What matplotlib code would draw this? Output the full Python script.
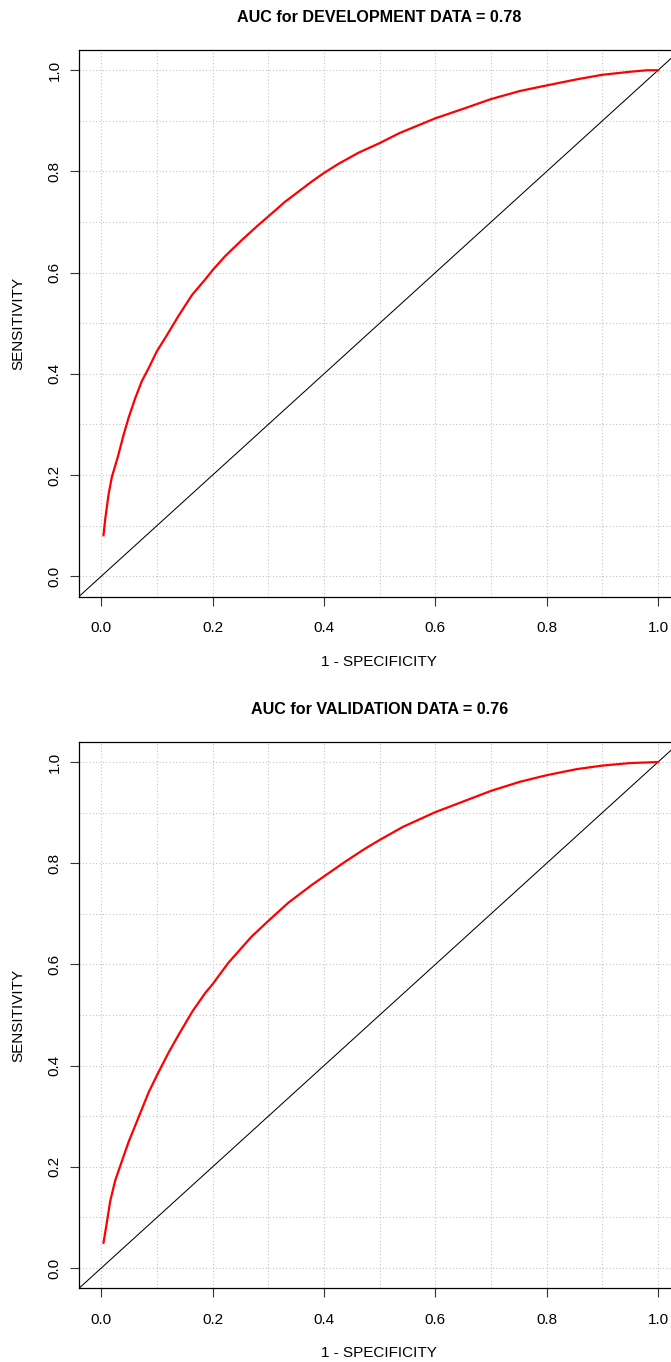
import numpy as np
import matplotlib
matplotlib.use("Agg")
import matplotlib.pyplot as plt
from matplotlib.ticker import MultipleLocator

plt.rcParams['font.family'] = ['Liberation Sans', 'DejaVu Sans']

# ROC points (1 - specificity, sensitivity)
dev_fpr = [0.004, 0.007, 0.013, 0.019, 0.030, 0.040, 0.049, 0.061, 0.073, 0.085,
           0.100, 0.116, 0.139, 0.163, 0.187, 0.200, 0.222, 0.252, 0.282, 0.300,
           0.330, 0.378, 0.400, 0.426, 0.462, 0.500, 0.536, 0.600, 0.656, 0.700,
           0.752, 0.800, 0.854, 0.900, 0.950, 0.980, 1.000]
dev_tpr = [0.081, 0.112, 0.161, 0.196, 0.237, 0.279, 0.313, 0.352, 0.386, 0.411,
           0.445, 0.473, 0.515, 0.556, 0.587, 0.605, 0.632, 0.664, 0.694, 0.711,
           0.740, 0.780, 0.797, 0.815, 0.837, 0.856, 0.876, 0.905, 0.926, 0.943,
           0.959, 0.970, 0.982, 0.991, 0.997, 1.000, 1.000]

val_fpr = [0.004, 0.010, 0.016, 0.025, 0.036, 0.049, 0.067, 0.085, 0.100, 0.121,
           0.139, 0.163, 0.187, 0.200, 0.228, 0.270, 0.300, 0.336, 0.378, 0.400,
           0.438, 0.474, 0.500, 0.542, 0.600, 0.650, 0.700, 0.752, 0.800, 0.854,
           0.900, 0.950, 1.000]
val_tpr = [0.050, 0.090, 0.132, 0.173, 0.208, 0.249, 0.298, 0.347, 0.381, 0.426,
           0.461, 0.506, 0.544, 0.561, 0.603, 0.655, 0.686, 0.722, 0.757, 0.774,
           0.803, 0.829, 0.846, 0.872, 0.901, 0.922, 0.943, 0.961, 0.974, 0.986,
           0.993, 0.998, 1.000]

titles = ["AUC for DEVELOPMENT DATA = 0.78", "AUC for VALIDATION DATA = 0.76"]
ticks = [0.0, 0.2, 0.4, 0.6, 0.8, 1.0]

W, H = 671, 1362
fig = plt.figure(figsize=(W / 100, H / 100), dpi=100)


def roc_panel(top_px, fpr, tpr, title):
    left_px, right_px = 79, 680.3
    h_px = 546.5
    ax = fig.add_axes([left_px / W, 1 - (top_px + h_px) / H,
                       (right_px - left_px) / W, h_px / H])
    ax.set_xlim(-0.04, 1.04)
    ax.set_ylim(-0.04, 1.04)
    ax.xaxis.set_minor_locator(MultipleLocator(0.1))
    ax.yaxis.set_minor_locator(MultipleLocator(0.1))
    ax.set_xticks(ticks)
    ax.set_yticks(ticks)
    ax.set_xticklabels([f"{t:.1f}" for t in ticks])
    ax.set_yticklabels([f"{t:.1f}" for t in ticks], rotation=90, va='center')
    ax.tick_params(which='major', length=6.5, width=0.8, labelsize=11, color='#333333')
    ax.tick_params(axis='x', pad=11)
    ax.tick_params(axis='y', pad=6)
    ax.tick_params(which='minor', length=0)
    ax.grid(True, which='both', color='#c4c4c4', linestyle=(0, (1, 2)), linewidth=0.8)
    ax.set_axisbelow(True)
    for s in ax.spines.values():
        s.set_linewidth(0.9)

    ax.axline((0, 0), slope=1, color='black', linewidth=0.75)
    ax.plot(fpr, tpr, color='#ff0000', linewidth=1.6)

    ax.set_title(title, fontsize=11.6, fontweight='bold', pad=20)
    ax.set_xlabel("1 - SPECIFICITY", fontsize=11)
    ax.set_ylabel("SENSITIVITY", fontsize=11)
    ax.xaxis.set_label_coords(0.498, -65 / h_px)
    ax.xaxis.label.set_va('center')
    ax.yaxis.set_label_coords((18 - left_px) / (right_px - left_px), 0.5)
    ax.yaxis.label.set_va('center')
    return ax


roc_panel(50, dev_fpr, dev_tpr, titles[0])
roc_panel(741.8, val_fpr, val_tpr, titles[1])

fig.savefig("out.png", dpi=100)
